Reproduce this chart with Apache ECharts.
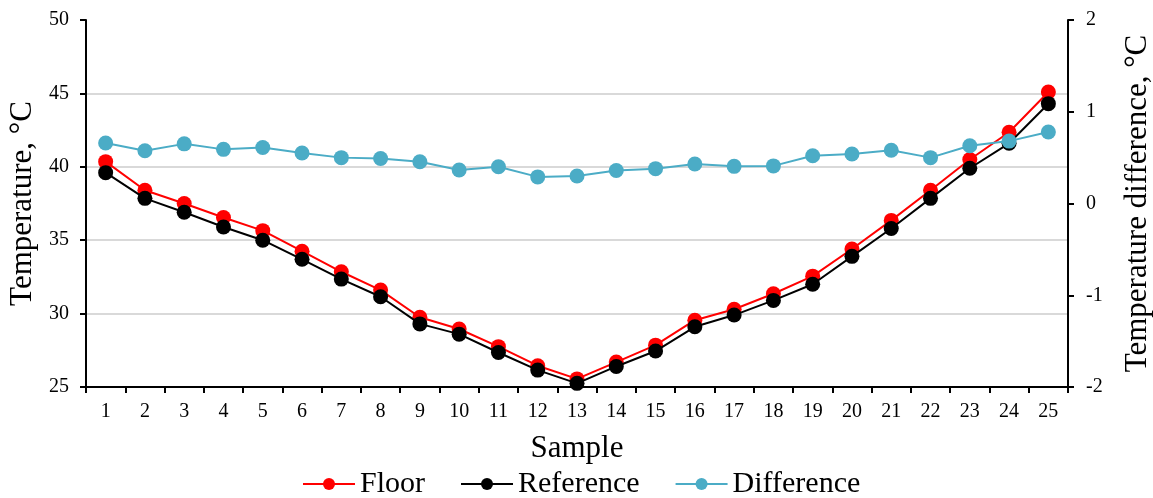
<!DOCTYPE html>
<html><head><meta charset="utf-8">
<script src="https://cdn.jsdelivr.net/npm/echarts@6/dist/echarts.min.js"></script>
<style>html,body{margin:0;padding:0;background:#fff}#c{width:1153px;height:498px}</style>
</head><body><div id="c"></div>
<script>
const categories = ['1','2','3','4','5','6','7','8','9','10','11','12','13','14','15','16','17','18','19','20','21','22','23','24','25'];
const floorValues = [40.35,38.4,37.5,36.55,35.65,34.25,32.85,31.6,29.75,28.95,27.75,26.45,25.55,26.7,27.85,29.55,30.3,31.35,32.55,34.4,36.35,38.4,40.5,42.35,45.1];
const referenceValues = [39.6,37.85,36.9,35.9,35.0,33.7,32.35,31.15,29.3,28.6,27.35,26.15,25.25,26.4,27.45,29.1,29.9,30.9,32.0,33.9,35.8,37.85,39.9,41.6,44.3];
const differenceValues = [0.66,0.575,0.65,0.59,0.61,0.55,0.50,0.49,0.455,0.365,0.40,0.29,0.30,0.36,0.38,0.43,0.405,0.41,0.52,0.54,0.58,0.50,0.63,0.68,0.78];
const leftTicks = {min:25, max:50, interval:5};
const rightTicks = {min:-2, max:2, interval:1};

const font = 'Liberation Serif';
const chart = echarts.init(document.getElementById('c'), null, {renderer:'canvas'});
chart.setOption({
  animation:false,
  backgroundColor:'#fff',
  grid:{left:86, right:85, top:20, bottom:111, containLabel:false, outerBoundsMode:'none'},
  legend:{
    top:464, left:297, itemWidth:52, itemHeight:15, itemGap:35,
    textStyle:{fontFamily:font, fontSize:30, color:'#000'},
    data:['Floor','Reference','Difference']
  },
  xAxis:{
    type:'category', data:categories, boundaryGap:true,
    name:'Sample', nameLocation:'middle', nameGap:46,
    nameTextStyle:{fontFamily:font, fontSize:31, color:'#000'},
    axisLine:{onZero:false, lineStyle:{color:'#000', width:2}},
    axisTick:{show:true, alignWithLabel:false, length:6, lineStyle:{color:'#000', width:2}},
    axisLabel:{fontFamily:font, fontSize:20, color:'#000', margin:15, interval:0}
  },
  yAxis:[{
    type:'value', min:leftTicks.min, max:leftTicks.max, interval:leftTicks.interval,
    name:'Temperature, °C', nameLocation:'middle', nameGap:37,
    nameTextStyle:{fontFamily:font, fontSize:31, color:'#000'},
    axisLine:{show:true, lineStyle:{color:'#000', width:2}},
    axisTick:{show:true, length:6, lineStyle:{color:'#000', width:2}},
    axisLabel:{fontFamily:font, fontSize:20, color:'#000', margin:17},
    splitLine:{show:true, showMaxLine:false, lineStyle:{color:'#d9d9d9', width:2}}
  },{
    type:'value', position:'right', min:rightTicks.min, max:rightTicks.max, interval:rightTicks.interval,
    name:'Temperature difference, °C', nameLocation:'middle', nameGap:54, nameRotate:90,
    nameTextStyle:{fontFamily:font, fontSize:31, color:'#000'},
    axisLine:{show:true, lineStyle:{color:'#000', width:2}},
    axisTick:{show:true, length:6, lineStyle:{color:'#000', width:2}},
    axisLabel:{fontFamily:font, fontSize:20, color:'#000', margin:18},
    splitLine:{show:false}
  }],
  series:[
    {name:'Floor', type:'line', data:floorValues, yAxisIndex:0, symbol:'circle', symbolSize:15,
     itemStyle:{color:'#ff0000'}, lineStyle:{color:'#ff0000', width:2}, z:3},
    {name:'Reference', type:'line', data:referenceValues, yAxisIndex:0, symbol:'circle', symbolSize:15,
     itemStyle:{color:'#000000'}, lineStyle:{color:'#000000', width:2}, z:4},
    {name:'Difference', type:'line', data:differenceValues, yAxisIndex:1, symbol:'circle', symbolSize:15,
     itemStyle:{color:'#4bacc6'}, lineStyle:{color:'#4bacc6', width:2}, z:5}
  ]
});
</script></body></html>
